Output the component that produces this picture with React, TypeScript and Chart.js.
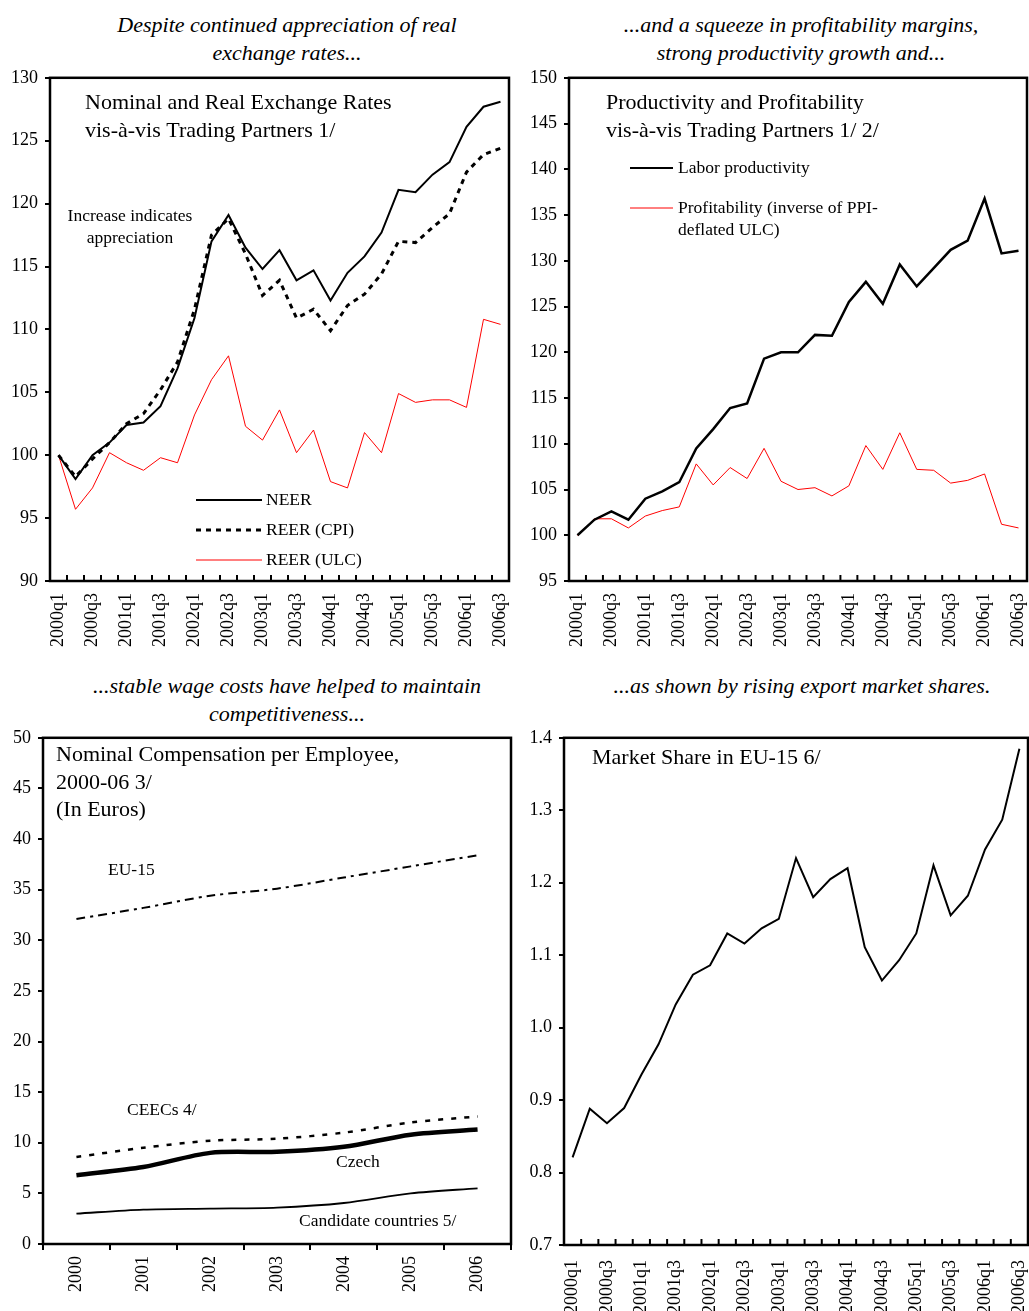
import { useEffect, useRef } from 'react';
import { Chart, registerables } from 'chart.js';
Chart.register(...registerables);

const FONT = "'Liberation Serif', 'Times New Roman', serif";

// ---------- data ----------
const quarters = [
  '2000q1', '2000q2', '2000q3', '2000q4', '2001q1', '2001q2', '2001q3', '2001q4',
  '2002q1', '2002q2', '2002q3', '2002q4', '2003q1', '2003q2', '2003q3', '2003q4',
  '2004q1', '2004q2', '2004q3', '2004q4', '2005q1', '2005q2', '2005q3', '2005q4',
  '2006q1', '2006q2', '2006q3',
];
const years = ['2000', '2001', '2002', '2003', '2004', '2005', '2006'];

const neer = [100, 98.1, 100, 101.0, 102.4, 102.6, 103.9, 106.9, 110.9, 117.0, 119.1, 116.5, 114.8, 116.3, 113.9, 114.7, 112.3, 114.5, 115.8, 117.7, 121.1, 120.9, 122.3, 123.3, 126.1, 127.7, 128.1];
const reerCpi = [100, 98.3, 99.7, 101.0, 102.5, 103.3, 105.2, 107.4, 111.6, 117.5, 118.8, 116.0, 112.7, 113.9, 110.9, 111.6, 109.9, 111.9, 112.8, 114.4, 117.0, 116.9, 118.1, 119.2, 122.5, 123.9, 124.4];
const reerUlc = [100, 95.7, 97.4, 100.2, 99.4, 98.8, 99.8, 99.4, 103.2, 106.0, 107.9, 102.3, 101.2, 103.6, 100.2, 102.0, 97.9, 97.4, 101.8, 100.2, 104.9, 104.2, 104.4, 104.4, 103.8, 110.8, 110.4];

const laborProductivity = [100, 101.7, 102.6, 101.7, 104.0, 104.8, 105.8, 109.5, 111.6, 113.9, 114.4, 119.3, 120.0, 120.0, 121.9, 121.8, 125.5, 127.7, 125.3, 129.6, 127.2, 129.2, 131.2, 132.2, 136.8, 130.8, 131.1];
const profitability = [100, 101.8, 101.8, 100.8, 102.1, 102.7, 103.1, 107.8, 105.5, 107.4, 106.2, 109.5, 105.9, 105.0, 105.2, 104.3, 105.4, 109.8, 107.2, 111.2, 107.2, 107.1, 105.7, 106.0, 106.7, 101.2, 100.8];

const eu15 = [32.1, 33.2, 34.4, 35.1, 36.2, 37.3, 38.4];
const ceecs = [8.6, 9.5, 10.2, 10.4, 11.0, 12.0, 12.6];
const czech = [6.8, 7.6, 9.0, 9.1, 9.6, 10.8, 11.3];
const candidates = [3.0, 3.4, 3.5, 3.6, 4.05, 5.0, 5.5];

const marketShare = [0.821, 0.888, 0.868, 0.889, 0.935, 0.977, 1.032, 1.073, 1.086, 1.130, 1.116, 1.137, 1.150, 1.234, 1.180, 1.205, 1.220, 1.111, 1.065, 1.093, 1.130, 1.224, 1.155, 1.182, 1.246, 1.287, 1.385];

// ---------- plugin ----------
const overlay = {
  id: 'overlay',
  afterDraw(chart: any, _args: any, opts: any) {
    const { ctx, chartArea: a } = chart;
    ctx.save();
    ctx.strokeStyle = '#000';
    ctx.lineWidth = 2.5;
    ctx.strokeRect(a.left, a.top, a.right - a.left, a.bottom - a.top);
    if (opts.innerTicks) {
      const xs = chart.scales.x;
      const n = chart.data.labels.length;
      const step = (xs.right - xs.left) / n;
      ctx.lineWidth = 2;
      for (let i = 1; i < n; i++) {
        const x = xs.left + i * step;
        ctx.beginPath();
        ctx.moveTo(x, a.bottom);
        ctx.lineTo(x, a.bottom - 6);
        ctx.stroke();
      }
    }
    for (const l of opts.lines || []) {
      ctx.beginPath();
      ctx.strokeStyle = l.color;
      ctx.lineWidth = l.width;
      ctx.setLineDash(l.dash || []);
      ctx.moveTo(l.x1, l.y);
      ctx.lineTo(l.x2, l.y);
      ctx.stroke();
    }
    ctx.setLineDash([]);
    ctx.fillStyle = '#000';
    ctx.textBaseline = 'middle';
    for (const t of opts.texts || []) {
      ctx.font = `${t.size}px ${FONT}`;
      ctx.textAlign = t.align || 'left';
      ctx.fillText(t.text, t.x, t.y);
    }
    ctx.restore();
  },
};

function makeConfig(p: {
  labels: string[];
  datasets: any[];
  yMin: number; yMax: number; yStep: number;
  yWidth: number; xHeight: number;
  pad: any;
  innerTicks: boolean;
  everyOther: boolean;
  decimals?: number;
  texts: any[];
  lines: any[];
  xPadding: number;
}) {
  return {
    type: 'line',
    data: { labels: p.labels, datasets: p.datasets },
    options: {
      responsive: false,
      animation: false,
      devicePixelRatio: 1,
      layout: { padding: p.pad },
      elements: { point: { radius: 0 } },
      plugins: {
        legend: { display: false },
        tooltip: { enabled: false },
        overlay: { innerTicks: p.innerTicks, texts: p.texts, lines: p.lines },
      },
      scales: {
        x: {
          type: 'category',
          offset: true,
          border: { display: false },
          grid: p.innerTicks
            ? { display: false }
            : { display: true, drawOnChartArea: false, offset: true, tickLength: 6, color: '#000', lineWidth: 2 },
          ticks: {
            autoSkip: false,
            maxRotation: 90,
            minRotation: 90,
            padding: p.xPadding,
            color: '#000',
            font: { family: FONT, size: 18 },
            callback: (_v: any, i: number) => (p.everyOther ? (i % 2 === 0 ? p.labels[i] : '') : p.labels[i]),
          },
          afterFit: (s: any) => {
            s.height = p.xHeight;
            s.paddingLeft = 0;
            s.paddingRight = 0;
          },
        },
        y: {
          min: p.yMin,
          max: p.yMax,
          border: { display: false },
          grid: { display: true, drawOnChartArea: false, tickLength: 5, color: '#000', lineWidth: 2 },
          ticks: {
            stepSize: p.yStep,
            padding: 7,
            color: '#000',
            font: { family: FONT, size: 18 },
            callback: (v: any) => (p.decimals ? Number(v).toFixed(p.decimals) : String(Math.round(v))),
          },
          afterFit: (s: any) => { s.width = p.yWidth; },
        },
      },
    },
    plugins: [overlay],
  };
}

const config1 = makeConfig({
  labels: quarters,
  datasets: [
    { data: neer, borderColor: '#000', borderWidth: 2, tension: 0 },
    { data: reerCpi, borderColor: '#000', borderWidth: 3, borderDash: [5, 5], tension: 0 },
    { data: reerUlc, borderColor: '#ff0000', borderWidth: 1, tension: 0 },
  ],
  yMin: 90, yMax: 130, yStep: 5, yWidth: 50, xHeight: 79,
  pad: { top: 15, right: 11, left: 0, bottom: 0 },
  innerTicks: true, everyOther: true, xPadding: 4,
  texts: [
    { text: 'Nominal and Real Exchange Rates', x: 85, y: 43, size: 22 },
    { text: 'vis-à-vis Trading Partners 1/', x: 85, y: 71, size: 22 },
    { text: 'Increase indicates', x: 130, y: 156, size: 17.5, align: 'center' },
    { text: 'appreciation', x: 130, y: 178, size: 17.5, align: 'center' },
    { text: 'NEER', x: 266, y: 440, size: 17.5 },
    { text: 'REER (CPI)', x: 266, y: 470, size: 17.5 },
    { text: 'REER (ULC)', x: 266, y: 500, size: 17.5 },
  ],
  lines: [
    { x1: 196, x2: 262, y: 440, color: '#000', width: 2 },
    { x1: 196, x2: 262, y: 470, color: '#000', width: 3, dash: [5, 5] },
    { x1: 196, x2: 262, y: 500, color: '#ff0000', width: 1 },
  ],
});

const config2 = makeConfig({
  labels: quarters,
  datasets: [
    { data: laborProductivity, borderColor: '#000', borderWidth: 2.5, tension: 0 },
    { data: profitability, borderColor: '#ff0000', borderWidth: 1, tension: 0 },
  ],
  yMin: 95, yMax: 150, yStep: 5, yWidth: 49, xHeight: 79,
  pad: { top: 15, right: 2, left: 0, bottom: 0 },
  innerTicks: true, everyOther: true, xPadding: 4,
  texts: [
    { text: 'Productivity and Profitability', x: 86, y: 43, size: 22 },
    { text: 'vis-à-vis Trading Partners 1/ 2/', x: 86, y: 71, size: 22 },
    { text: 'Labor productivity', x: 158, y: 108, size: 17.5 },
    { text: 'Profitability (inverse of PPI-', x: 158, y: 148, size: 17.5 },
    { text: 'deflated ULC)', x: 158, y: 170, size: 17.5 },
  ],
  lines: [
    { x1: 110, x2: 153, y: 108, color: '#000', width: 2 },
    { x1: 110, x2: 153, y: 148, color: '#ff0000', width: 1 },
  ],
});

const config3 = makeConfig({
  labels: years,
  datasets: [
    { data: eu15, borderColor: '#000', borderWidth: 2, borderDash: [9, 5, 3, 5], tension: 0.3 },
    { data: ceecs, borderColor: '#000', borderWidth: 2.5, borderDash: [5, 8], tension: 0.3 },
    { data: czech, borderColor: '#000', borderWidth: 4.5, tension: 0.3 },
    { data: candidates, borderColor: '#000', borderWidth: 1.8, tension: 0.3 },
  ],
  yMin: 0, yMax: 50, yStep: 5, yWidth: 43, xHeight: 67,
  pad: { top: 12, right: 9, left: 0, bottom: 0 },
  innerTicks: false, everyOther: false, xPadding: 6,
  texts: [
    { text: 'Nominal Compensation per Employee,', x: 56, y: 35, size: 22 },
    { text: '2000-06 3/', x: 56, y: 63, size: 22 },
    { text: '(In Euros)', x: 56, y: 90, size: 22 },
    { text: 'EU-15', x: 108, y: 150, size: 17.5 },
    { text: 'CEECs 4/', x: 127, y: 390, size: 17.5 },
    { text: 'Czech', x: 336, y: 442, size: 17.5 },
    { text: 'Candidate countries 5/', x: 299, y: 501, size: 17.5 },
  ],
  lines: [],
});

const config4 = makeConfig({
  labels: quarters,
  datasets: [
    { data: marketShare, borderColor: '#000', borderWidth: 2, tension: 0 },
  ],
  yMin: 0.7, yMax: 1.4, yStep: 0.1, yWidth: 44, xHeight: 66,
  pad: { top: 12, right: 1, left: 0, bottom: 0 },
  innerTicks: true, everyOther: true, xPadding: 7, decimals: 1,
  texts: [
    { text: 'Market Share in EU-15 6/', x: 72, y: 38, size: 22 },
  ],
  lines: [],
});

function ChartCanvas({ config, left, top, width, height }: any) {
  const ref = useRef<HTMLCanvasElement>(null);
  useEffect(() => {
    const chart = new Chart(ref.current as HTMLCanvasElement, config as any);
    return () => chart.destroy();
  }, []);
  return (
    <canvas
      ref={ref}
      width={width}
      height={height}
      style={{ position: 'absolute', left, top, width, height }}
    />
  );
}

function Header({ lines, cx, cy }: { lines: string[]; cx: number; cy: number }) {
  return (
    <div
      style={{
        position: 'absolute',
        left: cx - 260,
        top: cy - 14,
        width: 520,
        textAlign: 'center',
        fontFamily: FONT,
        fontStyle: 'italic',
        fontSize: 22,
        lineHeight: '28px',
        color: '#000',
      }}
    >
      {lines.map((l, i) => (
        <div key={i}>{l}</div>
      ))}
    </div>
  );
}

export default function App() {
  return (
    <div style={{ position: 'absolute', left: 0, top: 0, width: 1029, height: 1311, background: '#fff', overflow: 'hidden' }}>
      <Header lines={['Despite continued appreciation of real', 'exchange rates...']} cx={287} cy={25} />
      <Header lines={['...and a squeeze in profitability margins,', 'strong productivity growth and...']} cx={801} cy={25} />
      <Header lines={['...stable wage costs have helped to maintain', 'competitiveness...']} cx={287} cy={686} />
      <Header lines={['...as shown by rising export market shares.']} cx={802} cy={686} />
      <ChartCanvas config={config1} left={0} top={60} width={520} height={600} />
      <ChartCanvas config={config2} left={520} top={60} width={509} height={600} />
      <ChartCanvas config={config3} left={0} top={720} width={520} height={591} />
      <ChartCanvas config={config4} left={520} top={720} width={509} height={591} />
    </div>
  );
}
